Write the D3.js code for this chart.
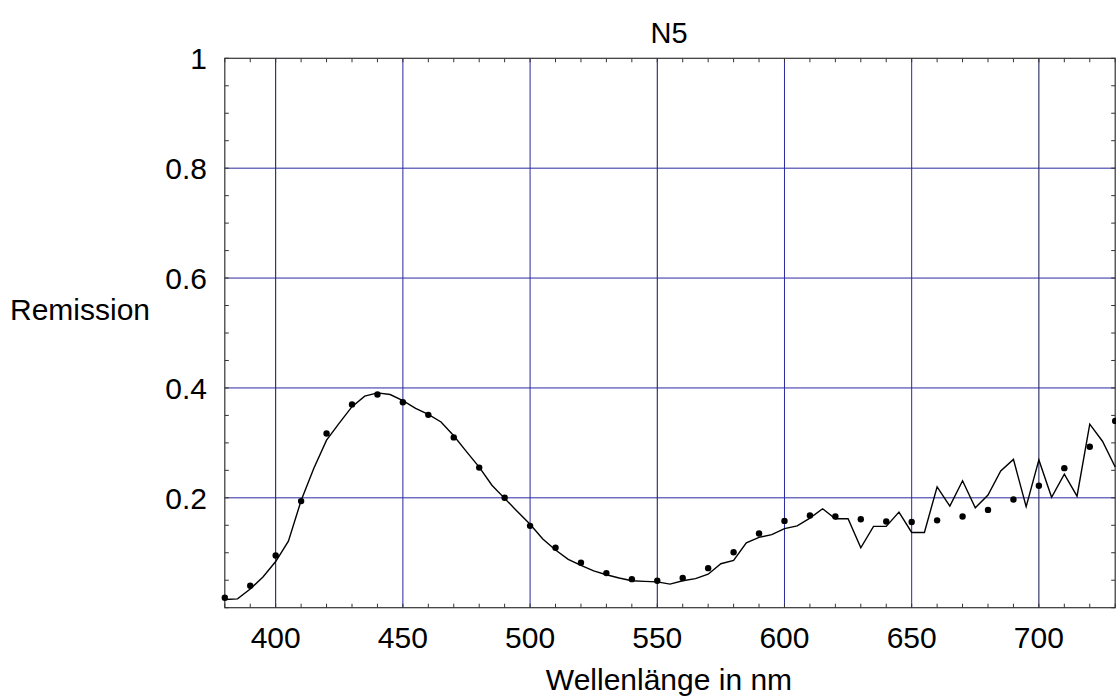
<!DOCTYPE html>
<html>
<head>
<meta charset="utf-8">
<script src="https://cdn.jsdelivr.net/npm/d3@7"></script>
<style>
  html, body { margin: 0; padding: 0; background: #fff; }
  svg { display: block; font-family: "Liberation Sans", Arial, Helvetica, sans-serif; }
</style>
</head>
<body>
<svg id="chart" width="1116" height="700"></svg>
<script>
// Measured remission samples (dots), every 10 nm
const measuredWl = [380,390,400,410,420,430,440,450,460,470,480,490,500,510,520,530,540,550,560,570,580,590,600,610,620,630,640,650,660,670,680,690,700,710,720,730];
const measuredVal = [0.018,0.040,0.095,0.194,0.317,0.370,0.388,0.374,0.351,0.310,0.255,0.200,0.149,0.109,0.082,0.063,0.052,0.049,0.054,0.072,0.101,0.135,0.158,0.168,0.166,0.161,0.157,0.156,0.159,0.166,0.178,0.197,0.222,0.254,0.293,0.340];

// Computed spectrum (line), every 5 nm
const curveWl = [380,385,390,395,400,405,410,415,420,425,430,435,440,445,450,455,460,465,470,475,480,485,490,495,500,505,510,515,520,525,530,535,540,545,550,555,560,565,570,575,580,585,590,595,600,605,610,615,620,625,630,635,640,645,650,655,660,665,670,675,680,685,690,695,700,705,710,715,720,725,730];
const curveVal = [0.015,0.016,0.034,0.056,0.084,0.121,0.195,0.254,0.305,0.336,0.366,0.385,0.391,0.388,0.377,0.363,0.352,0.338,0.313,0.284,0.256,0.223,0.199,0.175,0.152,0.125,0.105,0.088,0.077,0.067,0.060,0.054,0.049,0.048,0.047,0.043,0.049,0.053,0.061,0.080,0.086,0.118,0.128,0.133,0.144,0.149,0.163,0.180,0.162,0.162,0.109,0.148,0.148,0.174,0.137,0.137,0.220,0.185,0.231,0.182,0.205,0.249,0.270,0.184,0.269,0.201,0.243,0.203,0.334,0.303,0.256];

const xMajorTicks = [400,450,500,550,600,650,700];
const yMajorTicks = [0.2,0.4,0.6,0.8,1];
const yTickLabels = ["0.2","0.4","0.6","0.8","1"];

const titleText = "N5";
const xLabelText = "Wellenlänge in nm";
const yLabelText = "Remission";

const svg = d3.select("#chart");
const plotLeft = 224.8, plotRight = 1115.2, plotTop = 58.3, plotBottom = 607.7;

const x = d3.scaleLinear().domain([380, 730]).range([plotLeft, plotRight]);
const y = d3.scaleLinear().domain([0, 1]).range([plotBottom, plotTop]);

const fontSize = 30;

// Grid lines
const gridDark = new Set([400, 550, 700]);
svg.append("g").selectAll("line").data(xMajorTicks).join("line")
  .attr("x1", d => x(d)).attr("x2", d => x(d))
  .attr("y1", plotTop).attr("y2", plotBottom)
  .attr("stroke", d => gridDark.has(d) ? "#10104a" : "#2a2aa0")
  .attr("stroke-width", 1);
svg.append("g").selectAll("line").data(yMajorTicks.filter(v => v < 1)).join("line")
  .attr("x1", plotLeft).attr("x2", plotRight)
  .attr("y1", d => y(d)).attr("y2", d => y(d))
  .attr("stroke", "#2a2aa0")
  .attr("stroke-width", 1);

// Minor ticks pointing inward on all four sides
const xMinor = d3.range(380, 731, 10);
const yMinor = d3.range(0, 1.0001, 0.05);
const tl = 4;
const tick = svg.append("g").attr("stroke", "#333").attr("stroke-width", 1);
xMinor.forEach(v => {
  tick.append("line").attr("x1", x(v)).attr("x2", x(v)).attr("y1", plotBottom).attr("y2", plotBottom - tl);
  tick.append("line").attr("x1", x(v)).attr("x2", x(v)).attr("y1", plotTop).attr("y2", plotTop + tl);
});
yMinor.forEach(v => {
  tick.append("line").attr("x1", plotLeft).attr("x2", plotLeft + tl).attr("y1", y(v)).attr("y2", y(v));
  tick.append("line").attr("x1", plotRight).attr("x2", plotRight - tl).attr("y1", y(v)).attr("y2", y(v));
});

// Frame
svg.append("rect")
  .attr("x", plotLeft).attr("y", plotTop)
  .attr("width", plotRight - plotLeft).attr("height", plotBottom - plotTop)
  .attr("fill", "none").attr("stroke", "#333").attr("stroke-width", 1.2);

// Computed curve
const line = d3.line().x((d, i) => x(curveWl[i])).y(d => y(d));
svg.append("path")
  .datum(curveVal)
  .attr("d", line)
  .attr("fill", "none")
  .attr("stroke", "#000")
  .attr("stroke-width", 1.4)
  .attr("stroke-linejoin", "miter");

// Measured points
svg.append("g").selectAll("circle").data(measuredVal).join("circle")
  .attr("cx", (d, i) => x(measuredWl[i]))
  .attr("cy", d => y(d))
  .attr("r", 3.2)
  .attr("fill", "#000");

// Tick labels
svg.append("g").selectAll("text").data(xMajorTicks).join("text")
  .attr("x", d => x(d)).attr("y", 648)
  .attr("text-anchor", "middle")
  .attr("font-size", fontSize)
  .text(d => d);
svg.append("g").selectAll("text").data(yMajorTicks).join("text")
  .attr("x", 207).attr("y", d => y(d) + 11)
  .attr("text-anchor", "end")
  .attr("font-size", fontSize)
  .text((d, i) => yTickLabels[i]);

// Titles
svg.append("text").attr("x", 669).attr("y", 43)
  .attr("text-anchor", "middle").attr("font-size", 29).text(titleText);
svg.append("text").attr("x", 669).attr("y", 690)
  .attr("text-anchor", "middle").attr("font-size", fontSize).text(xLabelText);
svg.append("text").attr("x", 10).attr("y", 320)
  .attr("text-anchor", "start").attr("font-size", fontSize).text(yLabelText);
</script>
</body>
</html>
